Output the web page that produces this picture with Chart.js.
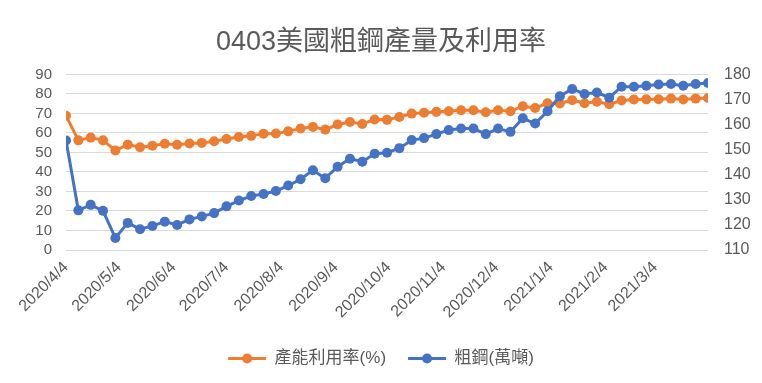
<!DOCTYPE html>
<html>
<head>
<meta charset="utf-8">
<script src="https://cdn.jsdelivr.net/npm/chart.js@4/dist/chart.umd.min.js"></script>
<style>
  html, body { margin: 0; padding: 0; background: #fff; }
  #wrap { width: 762px; height: 383px; }
</style>
</head>
<body>
<div id="wrap"><canvas id="steelChart" width="762" height="383"></canvas></div>
<script>
// ==========================================
// =  DATA
// ==========================================
const weekDates = [
  "2020/4/4", "2020/4/11", "2020/4/18", "2020/4/25", "2020/5/2", "2020/5/9",
  "2020/5/16", "2020/5/23", "2020/5/30", "2020/6/6", "2020/6/13", "2020/6/20",
  "2020/6/27", "2020/7/4", "2020/7/11", "2020/7/18", "2020/7/25", "2020/8/1",
  "2020/8/8", "2020/8/15", "2020/8/22", "2020/8/29", "2020/9/5", "2020/9/12",
  "2020/9/19", "2020/9/26", "2020/10/3", "2020/10/10", "2020/10/17", "2020/10/24",
  "2020/10/31", "2020/11/7", "2020/11/14", "2020/11/21", "2020/11/28", "2020/12/5",
  "2020/12/12", "2020/12/19", "2020/12/26", "2021/1/2", "2021/1/9", "2021/1/16",
  "2021/1/23", "2021/1/30", "2021/2/6", "2021/2/13", "2021/2/20", "2021/2/27",
  "2021/3/6", "2021/3/13", "2021/3/20", "2021/3/27", "2021/4/3",
];

// 產能利用率(%) - left axis
const utilization = [
  68.8, 56.2, 57.6, 56.2, 51.0, 54.0, 52.7, 53.4, 54.5, 53.9,
  54.6, 54.9, 55.7, 56.9, 57.9, 58.5, 59.6, 59.7, 60.8, 62.3,
  63.1, 61.7, 64.3, 65.6, 64.6, 66.9, 66.7, 68.2, 69.9, 70.3,
  70.8, 71.1, 71.6, 71.6, 70.6, 71.6, 71.1, 73.7, 72.8, 75.2,
  75.1, 76.8, 75.2, 76.0, 74.7, 76.6, 77.1, 77.2, 77.3, 77.6,
  77.1, 77.6, 77.9,
];

// 粗鋼(萬噸) - right axis
const crudeSteel = [
  153.7, 125.8, 128.0, 125.6, 114.8, 120.8, 118.3, 119.6, 121.3, 120.0,
  122.2, 123.4, 124.7, 127.4, 129.7, 131.5, 132.3, 133.5, 135.7, 138.2,
  141.8, 138.6, 143.2, 146.4, 145.2, 148.4, 148.8, 150.6, 153.8, 154.6,
  156.2, 157.8, 158.4, 158.4, 156.2, 158.4, 157.1, 162.5, 160.4, 165.3,
  171.3, 174.2, 172.2, 172.8, 170.7, 175.1, 175.1, 175.5, 176.0, 176.2,
  175.5, 176.2, 176.6,
];

const monthTicks = [
  "2020/4/4", "2020/5/4", "2020/6/4", "2020/7/4", "2020/8/4", "2020/9/4",
  "2020/10/4", "2020/11/4", "2020/12/4", "2021/1/4", "2021/2/4", "2021/3/4",
];

const leftTicks = { min: 0, max: 90, step: 10 };
const rightTicks = { min: 110, max: 180, step: 10 };

// ==========================================
// =  HELPERS
// ==========================================
const FONT = "'Liberation Sans', 'Noto Sans CJK TC', sans-serif";
const GREY = "#595959";
const ORANGE = "#ED7D31";
const BLUE = "#4472C4";

// days since first week date
function toDay(s) {
  const [y, m, d] = s.split("/").map(Number);
  return (Date.UTC(y, m - 1, d) - Date.UTC(2020, 3, 4)) / 86400000;
}

const tickNames = {};
monthTicks.forEach((s) => (tickNames[toDay(s)] = s));

function toPoints(values) {
  return values.map((v, i) => ({ x: toDay(weekDates[i]), y: v }));
}

// draws the round marker on top of each legend line
const legendMarkers = {
  id: "legendMarkers",
  afterDraw(chart) {
    const legend = chart.legend;
    if (!legend || !legend.legendHitBoxes) return;
    const ctx = chart.ctx;
    const boxW = legend.options.labels.boxWidth;
    legend.legendHitBoxes.forEach((box, i) => {
      const ds = chart.data.datasets[i];
      ctx.save();
      ctx.fillStyle = ds.borderColor;
      ctx.beginPath();
      ctx.arc(box.left + boxW / 2, box.top + box.height / 2, 5, 0, Math.PI * 2);
      ctx.fill();
      ctx.restore();
    });
  },
};

// ==========================================
// =  CHART
// ==========================================
const ctx = document.getElementById("steelChart").getContext("2d");

new Chart(ctx, {
  type: "line",
  data: {
    datasets: [
      {
        label: "產能利用率(%)",
        data: toPoints(utilization),
        borderColor: ORANGE,
        backgroundColor: ORANGE,
        borderWidth: 3,
        pointRadius: 5,
        pointBorderWidth: 0,
        pointBackgroundColor: ORANGE,
        yAxisID: "yLeft",
        order: 2,
      },
      {
        label: "粗鋼(萬噸)",
        data: toPoints(crudeSteel),
        borderColor: BLUE,
        backgroundColor: BLUE,
        borderWidth: 3,
        pointRadius: 5,
        pointBorderWidth: 0,
        pointBackgroundColor: BLUE,
        yAxisID: "yRight",
        order: 1,
      },
    ],
  },
  options: {
    responsive: false,
    animation: false,
    events: [],
    layout: { padding: { left: 10, right: 10, top: 0, bottom: 6 } },
    plugins: {
      title: {
        display: true,
        text: "0403美國粗鋼產量及利用率",
        color: GREY,
        font: { family: FONT, size: 27, weight: "normal" },
        padding: { top: 26, bottom: 16 },
      },
      legend: {
        position: "bottom",
        labels: {
          color: GREY,
          font: { family: FONT, size: 17 },
          boxWidth: 38,
          boxHeight: 3,
          padding: 22,
          generateLabels(chart) {
            return chart.data.datasets.map((ds, i) => ({
              text: ds.label,
              fillStyle: ds.borderColor,
              strokeStyle: ds.borderColor,
              lineWidth: 0,
              fontColor: GREY,
              datasetIndex: i,
            }));
          },
        },
      },
      tooltip: { enabled: false },
    },
    scales: {
      x: {
        type: "linear",
        min: 0,
        max: toDay(weekDates[weekDates.length - 1]),
        grid: { display: false, drawTicks: false },
        border: { display: false },
        afterBuildTicks(scale) {
          scale.ticks = monthTicks.map((s) => ({ value: toDay(s) }));
        },
        afterFit(scale) {
          scale.height = 78;
        },
        ticks: {
          autoSkip: false,
          minRotation: 45,
          maxRotation: 45,
          padding: 8,
          color: GREY,
          font: { family: FONT, size: 16 },
          callback: (v) => tickNames[v] || "",
        },
      },
      yLeft: {
        position: "left",
        min: leftTicks.min,
        max: leftTicks.max,
        grid: { color: "#d9d9d9", lineWidth: 1, drawTicks: false },
        border: { display: false },
        afterFit(scale) {
          scale.width = 56;
        },
        ticks: {
          stepSize: leftTicks.step,
          autoSkip: false,
          padding: 14,
          color: GREY,
          font: { family: FONT, size: 15 },
        },
      },
      yRight: {
        position: "right",
        min: rightTicks.min,
        max: rightTicks.max,
        grid: { display: false, drawTicks: false },
        border: { display: false },
        afterFit(scale) {
          scale.width = 44;
        },
        ticks: {
          stepSize: rightTicks.step,
          autoSkip: false,
          padding: 16,
          color: GREY,
          font: { family: FONT, size: 16 },
        },
      },
    },
  },
  plugins: [legendMarkers],
});
</script>
</body>
</html>
